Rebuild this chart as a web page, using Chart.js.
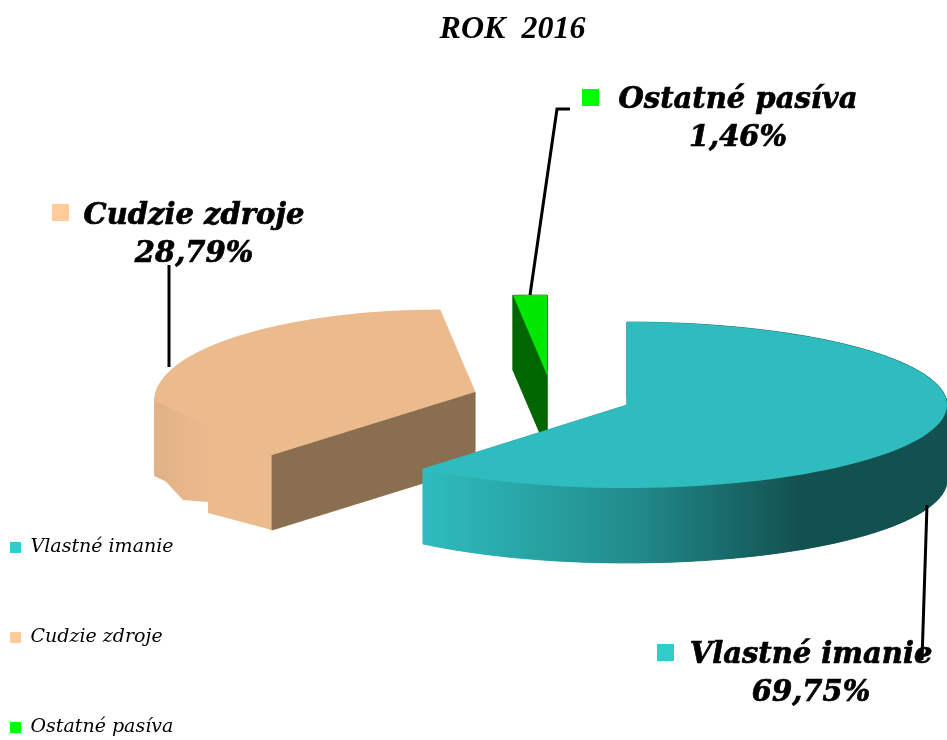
<!DOCTYPE html>
<html>
<head>
<meta charset="utf-8">
<title>ROK 2016</title>
<script src="https://cdn.jsdelivr.net/npm/chart.js@4"></script>
<style>
  html, body { margin: 0; padding: 0; background: #fff; }
  canvas { display: block; }
</style>
</head>
<body>
<canvas id="pasivaChart" width="947" height="740"></canvas>
<script>
// =====================
// Data
// =====================
const chartTitle = 'ROK  2016';
const categories = ['Vlastné imanie', 'Cudzie zdroje', 'Ostatné pasíva'];
const shares = [69.75, 28.79, 1.46];

// =====================
// Colours
// =====================
const legendColors = ['#33CCCC', '#FFCC99', '#00FF00'];
const topColors = ['#2EBCBE', '#EBBB8E', '#00E800'];

// =====================
// Fake 3D view of each slice, in pixels of the 947x740 frame
// =====================
const FRAME_WIDTH = 947;
const DEPTH = 75;
const FORESHORTEN = 0.8745; // the tilted pie draws its angles a bit narrower

const sliceViews = [
  { apex: [627, 405], center: [627, 405], ry: 83, across: 320 },
  {
    apex: [272, 455], corner: [475, 392], center: [440, 400], ry: 90, across: -285, cutFace: '#8A6E50',
    skirt: [[155, 470], [183, 500], [208, 502], [208, 513], [272, 530]]
  },
  { apex: [547, 375], center: [547, 375], ry: 80, across: -424 }
];

const labelViews = [
  { box: [657, 644], x: 811, y: 663, line: [[927, 505], [922, 660]] },
  { box: [52, 204], x: 194, y: 224, line: [[169, 265], [169, 367]] },
  { box: [582, 89], x: 738, y: 108, line: [[570, 109], [557, 109], [530, 295]] }
];

function slicePoints(view, sweep) {
  const pts = [view.apex];
  if (view.corner) pts.push(view.corner);
  const steps = 90;
  for (let i = 0; i <= steps; i++) {
    const t = sweep * i / steps;
    pts.push([view.center[0] + view.across * Math.sin(t), view.center[1] - view.ry * Math.cos(t)]);
  }
  return pts;
}

function tracePath(ctx, pts, dy) {
  ctx.beginPath();
  pts.forEach((p, i) => {
    if (i === 0) ctx.moveTo(p[0], p[1] + dy);
    else ctx.lineTo(p[0], p[1] + dy);
  });
  ctx.closePath();
}

function fillWall(ctx, a, b, style) {
  ctx.fillStyle = style;
  ctx.strokeStyle = style;
  ctx.lineWidth = 0.8;
  ctx.beginPath();
  ctx.moveTo(a[0], a[1]);
  ctx.lineTo(b[0], b[1]);
  ctx.lineTo(b[0], b[1] + DEPTH);
  ctx.lineTo(a[0], a[1] + DEPTH);
  ctx.closePath();
  ctx.fill();
  ctx.stroke();
}

function wallStyle(ctx, index) {
  if (index === 2) return '#006600';
  const grad = index === 0
    ? ctx.createLinearGradient(423, 0, 947, 0)
    : ctx.createLinearGradient(155, 0, 272, 0);
  if (index === 0) {
    grad.addColorStop(0, '#2EBCBE');
    grad.addColorStop(0.4, '#228C8C');
    grad.addColorStop(0.72, '#135050');
    grad.addColorStop(1, '#135050');
  } else {
    grad.addColorStop(0, '#E2B287');
    grad.addColorStop(0.5, '#EBBB8E');
    grad.addColorStop(1, '#EBBB8E');
  }
  return grad;
}

// Draws the pie's arcs as extruded slices, sweep taken from the arc elements
const pie3d = {
  id: 'pie3d',
  afterLayout(chart) {
    // title sits over the pie rather than over the canvas
    chart.titleBlock.left += 39;
    chart.titleBlock.right += 39;
    // legend goes into the bottom left corner
    chart.legend.left -= 61;
    chart.legend.bottom += 68;
  },
  beforeDatasetsDraw(chart) {
    const ctx = chart.ctx;
    const arcs = chart.getDatasetMeta(0).data;
    const s = chart.width / FRAME_WIDTH;
    ctx.save();
    ctx.scale(s, s);
    [1, 2, 0].forEach((i) => {
      const view = sliceViews[i];
      const pts = slicePoints(view, arcs[i].circumference * FORESHORTEN);
      const style = wallStyle(ctx, i);
      tracePath(ctx, pts, DEPTH);
      ctx.fillStyle = style;
      ctx.fill();
      pts.forEach((p, k) => fillWall(ctx, p, pts[(k + 1) % pts.length], style));
      if (view.skirt) {
        tracePath(ctx, [[view.apex[0], view.apex[1]]].concat(view.skirt), 0);
        ctx.fillStyle = style;
        ctx.fill();
      }
      if (view.cutFace) fillWall(ctx, view.apex, view.corner, view.cutFace);
      tracePath(ctx, pts, 0);
      ctx.fillStyle = topColors[i];
      ctx.fill();
    });
    ctx.restore();
    return false;
  },
  afterDraw(chart) {
    const ctx = chart.ctx;
    const s = chart.width / FRAME_WIDTH;
    ctx.save();
    ctx.scale(s, s);
    ctx.textAlign = 'center';
    ctx.textBaseline = 'alphabetic';
    ctx.font = 'italic bold 29px "DejaVu Serif"';
    labelViews.forEach((lab, i) => {
      ctx.strokeStyle = '#000';
      ctx.lineWidth = 3;
      ctx.beginPath();
      lab.line.forEach((p, k) => (k ? ctx.lineTo(p[0], p[1]) : ctx.moveTo(p[0], p[1])));
      ctx.stroke();
      ctx.fillStyle = legendColors[i];
      ctx.fillRect(lab.box[0], lab.box[1], 17, 17);
      ctx.fillStyle = '#000';
      ctx.lineWidth = 0.7;
      const pct = shares[i].toFixed(2).replace('.', ',') + '%';
      ctx.fillText(categories[i], lab.x, lab.y);
      ctx.strokeText(categories[i], lab.x, lab.y);
      ctx.fillText(pct, lab.x, lab.y + 38);
      ctx.strokeText(pct, lab.x, lab.y + 38);
    });
    ctx.restore();
  }
};

// =====================
// Chart
// =====================
new Chart(document.getElementById('pasivaChart'), {
  type: 'pie',
  data: {
    labels: categories,
    datasets: [{ data: shares, backgroundColor: legendColors, borderWidth: 0 }]
  },
  options: {
    responsive: false,
    animation: false,
    plugins: {
      title: {
        display: true,
        text: chartTitle,
        color: '#000',
        font: { family: '"Liberation Serif"', size: 32, style: 'italic', weight: 'bold' },
        padding: { top: 11, bottom: 10 }
      },
      legend: {
        position: 'left',
        align: 'end',
        labels: {
          boxWidth: 11,
          boxHeight: 11,
          padding: 71,
          color: '#000',
          font: { family: '"DejaVu Serif"', size: 19, style: 'italic' }
        }
      },
      tooltip: { enabled: false }
    }
  },
  plugins: [pie3d]
});
</script>
</body>
</html>
